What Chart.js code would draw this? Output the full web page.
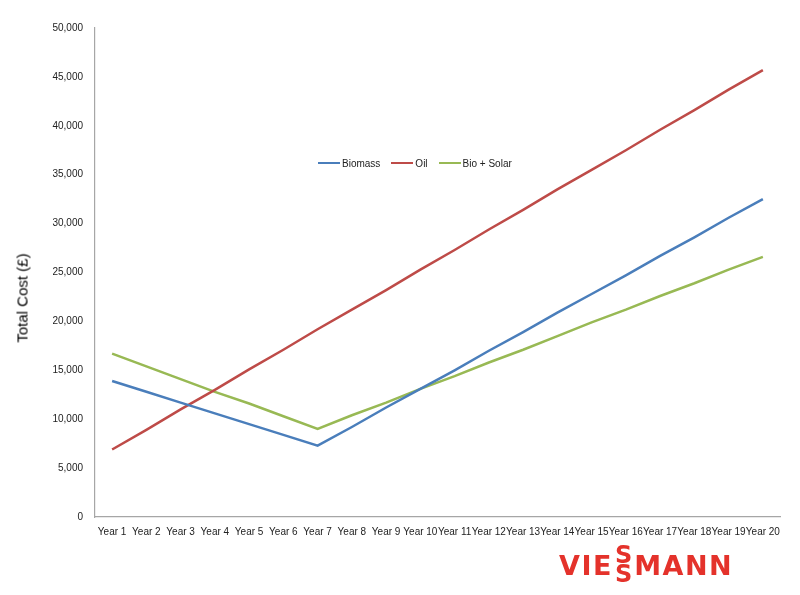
<!DOCTYPE html>
<html>
<head>
<meta charset="utf-8">
<script src="https://cdn.jsdelivr.net/npm/chart.js@4.4.0/dist/chart.umd.min.js"></script>
<style>
  html, body { margin: 0; padding: 0; background: #fff; }
  #wrap { position: relative; width: 800px; height: 595px; }
  #c { position: absolute; left: 0; top: 0; }
  #ytitle {
    position: absolute; left: 22px; top: 298px;
    transform: translate(-50%, -50%) rotate(-90deg);
    font-family: "Liberation Sans", Arial, sans-serif; font-size: 15px; font-weight: normal; color: #000;
    white-space: nowrap;
  }
  #legend {
    position: absolute; left: 318px; top: 156px; height: 14px;
    font-family: "Liberation Sans", Arial, sans-serif; font-size: 10px; color: #222;
    display: flex; align-items: center; white-space: nowrap;
  }
  #legend .item { display: flex; align-items: center; margin-right: 11px; }
  #legend .sw { width: 22px; height: 0; border-top: 2.5px solid; margin-right: 2px; }
  #logo {
    position: absolute; left: 559px; top: 544px; height: 42px;
    font-family: "DejaVu Sans", sans-serif; font-weight: bold; color: #e4322b;
    display: flex; align-items: center;
  }
  #logo .big { font-size: 27px; line-height: 27px; letter-spacing: 1.5px; }
  #logo .ss { display: flex; flex-direction: column; align-items: center; font-size: 24px; line-height: 19px; margin: 0 2px 0 2px; }
</style>
</head>
<body>
<div id="wrap">
  <canvas id="c" width="800" height="595"></canvas>
  <div id="ytitle">Total Cost (£)</div>
  <div id="legend"></div>
  <div id="logo"><span class="big">VIE</span><span class="ss"><span>S</span><span>S</span></span><span class="big">MANN</span></div>
</div>
<script>
const categories = ["Year 1","Year 2","Year 3","Year 4","Year 5","Year 6","Year 7","Year 8","Year 9","Year 10",
  "Year 11","Year 12","Year 13","Year 14","Year 15","Year 16","Year 17","Year 18","Year 19","Year 20"];
const seriesNames = ["Biomass", "Oil", "Bio + Solar"];
const biomass = [13900,12800,11700,10600,9500,8400,7300,9200,11200,13100,15000,17000,18900,20900,22800,24700,26700,28600,30600,32500];
const oil = [6900,8900,11000,13000,15100,17100,19200,21200,23200,25300,27300,29400,31400,33500,35500,37500,39600,41600,43700,45700];
const bioSolar = [16700,15400,14100,12800,11600,10300,9000,10400,11700,13100,14400,15800,17100,18500,19900,21200,22600,23900,25300,26600];
const yTicks = [0,5000,10000,15000,20000,25000,30000,35000,40000,45000,50000];
const colors = ["#4a7ebb", "#be4b48", "#98b954"];

Chart.defaults.font.family = '"Liberation Sans", Arial, sans-serif';
Chart.defaults.color = '#222';

const seriesValues = [biomass, oil, bioSolar];
const datasets = seriesNames.map((n, i) => ({
  label: n, data: seriesValues[i], borderColor: colors[i], backgroundColor: colors[i],
  borderWidth: 2.5, pointRadius: 0, tension: 0, fill: false
}));

const chart = new Chart(document.getElementById('c'), {
  type: 'line',
  data: { labels: categories, datasets },
  options: {
    responsive: false, animation: false,
    layout: { padding: { top: 28, right: 20, left: 0, bottom: 0 } },
    plugins: { legend: { display: false }, tooltip: { enabled: false } },
    scales: {
      x: {
        offset: true,
        grid: { display: false, drawTicks: false },
        border: { display: true, color: '#a6a6a6', width: 1.2 },
        ticks: { autoSkip: false, maxRotation: 0, minRotation: 0, padding: 9, font: { size: 10 }, color: '#222' },
        afterFit: s => { s.height = 78; }
      },
      y: {
        min: 0, max: 50000,
        afterBuildTicks: s => { s.ticks = yTicks.map(v => ({ value: v })); },
        grid: { display: false, drawTicks: false },
        border: { display: true, color: '#a6a6a6', width: 1.2 },
        ticks: { padding: 12, font: { size: 10 }, color: '#222',
          callback: v => v.toLocaleString('en-US') },
        afterFit: s => { s.width = 95; }
      }
    }
  }
});

const leg = document.getElementById('legend');
datasets.forEach(d => {
  const it = document.createElement('div'); it.className = 'item';
  const sw = document.createElement('span'); sw.className = 'sw'; sw.style.borderColor = d.borderColor;
  const tx = document.createElement('span'); tx.textContent = d.label;
  it.appendChild(sw); it.appendChild(tx); leg.appendChild(it);
});
</script>
</body>
</html>
